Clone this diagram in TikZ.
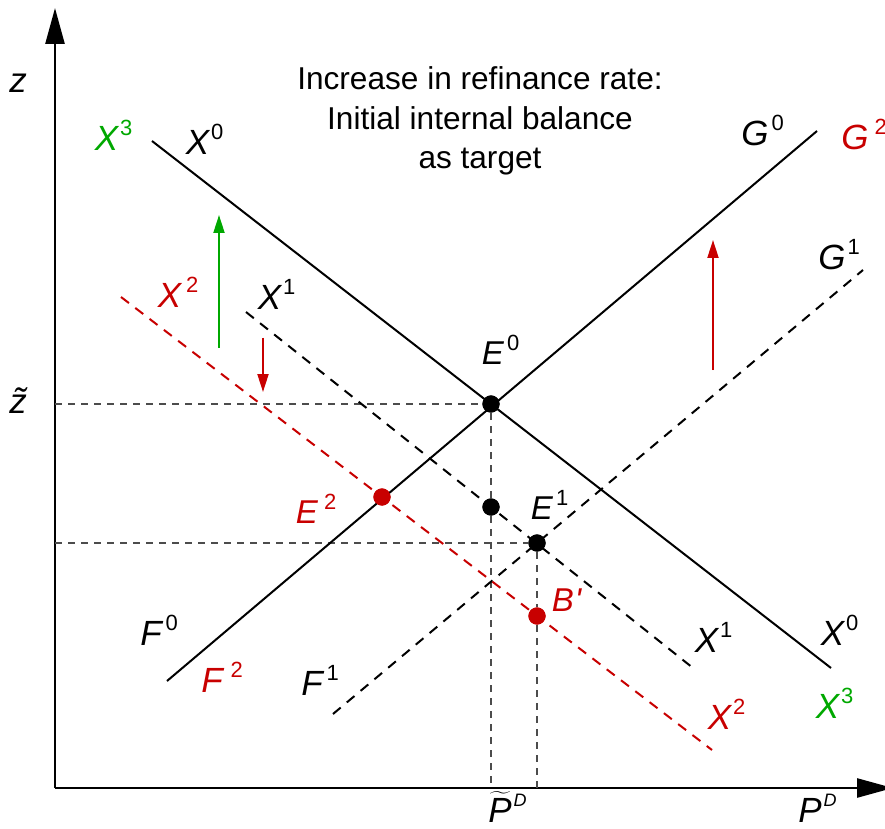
\documentclass[tikz,border=0pt]{standalone}
\usepackage{fontspec}
\setmainfont{Liberation Sans}
\usetikzlibrary{arrows.meta}
\definecolor{ecored}{HTML}{C80000}
\definecolor{ecogreen}{HTML}{00A800}
% letter with a superscript that does not widen the node
\newcommand{\lbl}[3][0.5pt]{\textit{#2}\rlap{\smash{\kern#1\raisebox{0.42em}{\fontsize{11}{11}\selectfont #3}}}}
\begin{document}
\begin{tikzpicture}[
      x=0.5pt, y=-0.5pt,
      axis/.style={line width=1.3pt, -{Triangle[length=18pt,width=9.5pt]}},
      curve/.style={line width=1pt},
      shifted/.style={curve, dash pattern=on 5pt off 4pt},
      guide/.style={line width=0.8pt, draw=black!70, dash pattern=on 3.5pt off 3pt},
      dot/.style={circle, fill=black, inner sep=0pt, minimum size=8.6pt},
      lab/.style={inner sep=0pt, font=\fontsize{17.5}{17.5}\selectfont},
      elab/.style={inner sep=0pt, font=\fontsize{16.5}{16.5}\selectfont},
      shiftarr/.style={line width=1pt, -{Triangle[length=9pt,width=5.5pt]}}
    ]
    \useasboundingbox (0,0) rectangle (885,829);

    % axes
    \coordinate (origin) at (55,788);
    \coordinate (ztop) at (55,8);
    \coordinate (pright) at (893,788);
    \draw[axis] (origin) -- (ztop);
    \draw[axis] (origin) -- (pright);
    \node[lab] (zlab) at (18,83) {\textit{z}};
    \node[lab, anchor=base] (ztilde) at (18,413) {\textit{\~{z}}};
    \node[lab, anchor=base] (ptilde) at (500,822) {$\widetilde{\mbox{\textit{P}}}$\rlap{\smash{\kern1pt\raisebox{0.45em}{\fontsize{9}{9}\selectfont\textit{D}}}}};
    \node[lab, anchor=base] (plab) at (810,822) {\textit{P}\rlap{\smash{\kern1pt\raisebox{0.45em}{\fontsize{9}{9}\selectfont\textit{D}}}}};

    % title
    \node[align=center, inner sep=0pt, font=\fontsize{15.8}{19.8}\selectfont] (title) at (480,121)
    {Increase in refinance rate:\\Initial internal balance\\as target};

    % end points of the schedules
    \coordinate (x0a) at (152,141);
    \coordinate (x0b) at (831,668);
    \coordinate (g0a) at (167,681);
    \coordinate (g0b) at (817,131);
    \coordinate (x1a) at (246,312);
    \coordinate (x1b) at (693,668);
    \coordinate (g1a) at (333,714);
    \coordinate (g1b) at (863,270);
    \coordinate (x2a) at (121,297);
    \coordinate (x2b) at (712,750);

    % equilibrium points
    \node[dot] (e0) at (491,404) {};
    \node[dot] (mid) at (491,507) {};
    \node[dot] (e1) at (537,543) {};
    \node[dot, fill=ecored] (e2) at (382,497) {};
    \node[dot, fill=ecored] (bp) at (537,616) {};

    % guide lines to the axes
    \coordinate (zt) at (55,404);
    \coordinate (z1) at (55,543);
    \coordinate (pt) at (491,788);
    \coordinate (p1) at (537,788);
    \draw[guide] (zt) -- (e0);
    \draw[guide] (z1) -- (e1);
    \draw[guide] (e0) -- (mid) -- (pt);
    \draw[guide] (e1) -- (bp) -- (p1);

    % schedules
    \draw[curve] (x0a) -- (x0b);
    \draw[curve] (g0a) -- (g0b);
    \draw[shifted] (x1a) -- (x1b);
    \draw[shifted] (g1a) -- (g1b);
    \draw[shifted, draw=ecored] (x2a) -- (x2b);

    % redraw dots on top
    \node[dot] at (e0) {};
    \node[dot] at (mid) {};
    \node[dot] at (e1) {};
    \node[dot, fill=ecored] at (e2) {};
    \node[dot, fill=ecored] at (bp) {};

    % shift arrows
    \coordinate (ga) at (219,348);
    \coordinate (gb) at (219,215);
    \coordinate (ra) at (263,338);
    \coordinate (rb) at (263,392);
    \coordinate (ua) at (713,370);
    \coordinate (ub) at (713,240);
    \draw[shiftarr, draw=ecogreen, fill=ecogreen] (ga) -- (gb);
    \draw[shiftarr, draw=ecored, fill=ecored] (ra) -- (rb);
    \draw[shiftarr, draw=ecored, fill=ecored] (ua) -- (ub);

    % labels
    \node[lab, text=ecogreen] (x3top) at (107,138) {\lbl{X}{3}};
    \node[lab] (x0top) at (198,142) {\lbl{X}{0}};
    \node[lab] (g0lab) at (755,133) {\lbl[1.5pt]{G}{0}};
    \node[lab, text=ecored] (g2lab) at (855,137) {\lbl[3pt]{G}{2}};
    \node[lab] (g1lab) at (832,257) {\lbl[1pt]{G}{1}};
    \node[lab, text=ecored] (x2top) at (170,295) {\lbl[2pt]{X}{2}};
    \node[lab] (x1top) at (270,297) {\lbl{X}{1}};
    \node[elab] (e0lab) at (493,353) {\lbl[1.5pt]{E}{0}};
    \node[elab, text=ecored] (e2lab) at (307,512) {\lbl[3pt]{E}{2}};
    \node[elab] (e1lab) at (542,508) {\lbl[1.5pt]{E}{1}};
    \node[elab, text=ecored] (bplab) at (563,600) {\textit{B}\rlap{\textit{\kern0.5pt\textquotesingle}}};
    \node[lab] (f0lab) at (152,633) {\lbl[1pt]{F}{0}};
    \node[lab, text=ecored] (f2lab) at (213,680) {\lbl[3pt]{F}{2}};
    \node[lab] (f1lab) at (313,683) {\lbl[1pt]{F}{1}};
    \node[lab] (x1bot) at (707,640) {\lbl{X}{1}};
    \node[lab] (x0bot) at (833,633) {\lbl{X}{0}};
    \node[lab, text=ecored] (x2bot) at (720,717) {\lbl{X}{2}};
    \node[lab, text=ecogreen] (x3bot) at (828,706) {\lbl{X}{3}};
\end{tikzpicture}
\end{document}
